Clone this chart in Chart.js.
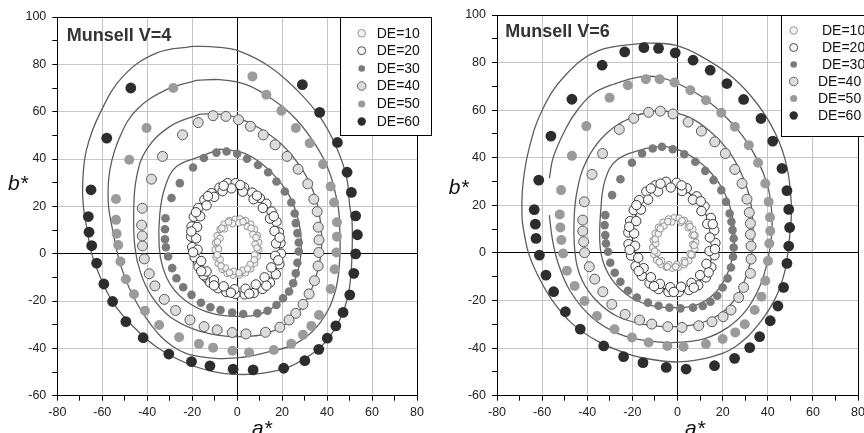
<!DOCTYPE html>
<html>
<head>
<meta charset="utf-8">
<script src="https://cdn.jsdelivr.net/npm/chart.js@4.4.1/dist/chart.umd.min.js"></script>
<style>
  body { margin: 0; background: #fff; width: 864px; height: 433px; overflow: hidden; position: relative; }
  canvas { position: absolute; top: 0; }
</style>
</head>
<body>
<canvas id="v4" width="432" height="433" style="left:0"></canvas>
<canvas id="v6" width="432" height="433" style="left:432px"></canvas>
<script>
// series names (legend)
const seriesLabels = ['DE=10', 'DE=20', 'DE=30', 'DE=40', 'DE=50', 'DE=60'];

// ---- Munsell V=4 : points [a*, b*] ----
const v4DE10 = [[-1,14.5],[-3.5,14],[-5.8,12.5],[-7.6,10.3],[-8.9,7.6],[-9.6,4.6],[-9.8,1.6],[-9.4,-1.4],[-8.4,-4.2],[-6.7,-6.6],[-4.5,-8.3],[-1.8,-9.1],[1,-9],[3.7,-8.1],[6,-6.4],[7.8,-4],[9,-1.2],[9.6,1.8],[9.6,4.8],[9,7.7],[7.8,10.3],[6,12.5],[3.7,14],[1.3,14.7],
  [-2,12.7],[-5.6,10.5],[-7.6,6.5],[-8.2,2],[-7.5,-2.5],[-5.2,-6],[-1.5,-7.4],[2.5,-7],[5.8,-4.5],[7.7,-0.5],[8,4],[7,8.2],[4.5,11.5],[0.8,13],
  [-3.8,13.4],[-6.8,10.8],[-8.8,5],[-8.9,-0.5],[-7.2,-5.2],[-3.4,-8],[0.8,-8.1],[4.6,-6.4],[7.6,-2.6],[8.8,2.4],[8.4,6.8],[6.2,10.8],[2.6,13.5]];
const v4DE20 = [[-4.3,29.8],[-0.7,29.8],[3.1,28],[6.7,25.8],[10.1,23.5],[13,21.1],[15.3,17.8],[17.5,13.5],[18.6,9],[19.3,4.5],[19.5,0],[18.8,-4.5],[17.2,-8.7],[14.6,-12.2],[11.3,-14.9],[7.4,-16.6],[3.3,-17.2],[-0.8,-17],[-4.8,-16.2],[-8.6,-14.6],[-12,-12.2],[-14.9,-9.1],[-17.2,-5.5],[-18.9,-1.5],[-20,2.8],[-20.5,7.2],[-20.3,11.5],[-19.3,15.6],[-17.3,19.3],[-14.6,22.8],[-11.4,25.6],[-7.9,27.9],
  [-2.5,27.6],[2.5,26.2],[7.3,23],[11.4,19.3],[14.6,14.8],[16.6,9.6],[17.3,4.3],[16.9,-0.9],[15.2,-5.8],[12.2,-10],[8.3,-13],[3.7,-14.8],[-1.2,-15],[-6,-13.8],[-10.3,-11.2],[-13.6,-7.5],[-16,-3.1],[-17.6,1.7],[-18.2,6.5],[-17.8,11.3],[-16.4,15.8],[-13.6,20.4],[-10.2,24],[-6.5,26.4],
  [-6,28.7],[1.4,29],[8.8,24.5],[16.3,15.8],[18.9,6.8],[18.3,-2.8],[13,-13.5],[5.4,-16.9],[-2.8,-16.5],[-10.3,-13.4],[-16,-7.4],[-19.6,0.6],[-20.4,9.4],[-18.3,17.5],[-13,24.3]];
const v4DE30 = [[-9.2,42.7],[-4.7,43.2],[0,42.2],[4.4,40.1],[9.3,37.5],[13.8,34.4],[17.5,30.5],[21.2,26.3],[24.1,21.6],[25.6,17],[26.1,12.9],[26.8,8.7],[27.4,4.7],[27.4,0.9],[26.8,-3.8],[26.1,-8.3],[24.9,-12.5],[23.1,-16],[20.4,-18.8],[17.5,-21.7],[13.5,-24.1],[9,-25.2],[2.7,-25.5],[-2.2,-24.9],[-7.4,-23.8],[-11.9,-22.6],[-16.1,-20.7],[-20.3,-17.4],[-24,-14.2],[-27,-10.4],[-28.9,-6.1],[-30.7,-1.2],[-31.7,2.7],[-32.1,6.1],[-32.1,10.3],[-31.9,15],[-29.2,23.5],[-25.5,29.8],[-19.6,36.4],[-14.8,40.4]];
const v4DE40 = [[-10.7,58.3],[-5,58],[0.6,56.6],[5.9,53.8],[11.6,50.2],[16.9,46],[22.2,41.1],[27.1,35.7],[31.4,29.5],[34.1,23],[35.6,17.8],[36.1,11.2],[36.4,5.8],[36.3,0.5],[36,-5.2],[34.4,-11.4],[32,-17],[29.3,-21.4],[26.1,-25.2],[23.1,-28],[19,-31.1],[12.6,-33.2],[3.9,-33.9],[-2.2,-33.3],[-8.9,-32.2],[-14.7,-30.8],[-21,-28],[-27.4,-24],[-32.4,-19.3],[-36.6,-13.6],[-39.1,-8.5],[-41.3,-2.2],[-42.1,3.3],[-42.2,7.5],[-42.5,12.1],[-42.2,19.2],[-38.1,31.5],[-33.2,41.1],[-24.3,50.2],[-17.3,55.4]];
const v4DE50 = [[6.8,74.9],[13,67.2],[19.7,60.4],[26.1,53.1],[32.3,46.7],[38.2,37.8],[41.6,28.4],[43.1,21.6],[44.4,13.3],[44.4,7.2],[44.1,0.5],[43.4,-6.6],[41.6,-14.9],[36.4,-25.9],[33,-30.5],[29.3,-34.3],[24.1,-38.1],[16.3,-40.7],[5.3,-41.7],[-2.1,-41],[-10.7,-39.7],[-17,-38.1],[-25.8,-35.3],[-34.7,-30.1],[-41,-24.1],[-45.9,-17.1],[-49.5,-10.8],[-51.9,-3.3],[-52.9,3.7],[-53.6,8.4],[-53.9,14.3],[-53.9,23.1],[-48,39.7],[-40.3,53.1],[-28.4,70]];
const v4DE60 = [[29,71.4],[36.7,59.7],[44.6,47],[48.9,34.4],[50.8,25.9],[52.7,16],[53.5,8],[52.7,-0.1],[51.9,-8.3],[50.1,-17.4],[47.1,-24.8],[43.9,-30.5],[40.1,-35.7],[36.3,-40.4],[30.1,-45.2],[20.7,-48.4],[7.1,-49.1],[-1.8,-48.8],[-12.1,-47.4],[-20.3,-45.6],[-30.4,-42.4],[-41.8,-35.5],[-49.5,-28.7],[-55.4,-20.2],[-59.3,-12.8],[-62.5,-4],[-64.7,3.4],[-65.9,9.1],[-66.2,15.7],[-65,27],[-58,48.8],[-47.3,70]];

// ---- Munsell V=4 : fitted curves ----
const v4Fit10 = [[-1,14],[-6,12],[-8.5,7.5],[-9.3,2],[-8.5,-3],[-6,-6.8],[-2,-8.3],[2.5,-8],[6.5,-5.5],[8.5,-1],[8.8,4],[7.5,9],[4.5,12.5],[-1,14]];
const v4Fit20 = [[-4,29],[-11,26.5],[-16,21],[-19,14],[-20.5,6],[-20,-1],[-18,-7.5],[-14,-12.5],[-9,-15.5],[-2,-16.5],[5,-16],[11,-13.5],[16,-9],[18.5,-3],[18.8,4],[18,10],[16,16],[12.5,21.5],[7,26],[1,29],[-4,29]];
const v4Fit30 = [[-7.7,44.2],[-16.6,41],[-27,36.8],[-32,28.4],[-34.4,17],[-34.7,3],[-33,-6],[-29,-14],[-22,-20.5],[-12,-25],[0,-26.5],[10,-25.5],[19,-20.5],[25,-12.5],[28,-3],[28.5,6],[27,15],[23.5,24],[18,31.5],[11,38],[3,42.5],[-7.7,44.2]];
const v4Fit40 = [[-16.6,59],[-30,53.7],[-40.3,44],[-44.7,32.6],[-46,18.5],[-45.5,3],[-43,-8],[-38,-18],[-30,-26.5],[-19,-32],[-8,-34.5],[2,-35],[12,-34],[22,-29.5],[30,-21],[35,-10],[37.5,2],[37,14],[34,26],[28,37],[20,46],[10,53],[0,57.5],[-8,59],[-16.6,59]];
const v4Fit50 = [[-18.1,73.2],[-31.4,69.3],[-44.7,60.8],[-52.1,49.5],[-56.6,35.4],[-57.3,21.4],[-55.1,8.7],[-52.1,-4],[-46.9,-16.7],[-38.8,-29.4],[-28.4,-39.3],[-16.6,-43.5],[0,-44],[14,-41.5],[26.4,-37.8],[36.7,-29.4],[43.4,-16.7],[45.6,-2.6],[45.6,11.5],[44.9,19.9],[41.2,34],[35.3,45.3],[26.4,56.6],[16,65],[4.1,71.4],[-7.7,73.5],[-18.1,73.2]];
const v4Fit60 = [[-20,87.6],[-36,84.7],[-50.7,75],[-61,59.4],[-67,44],[-68.7,30],[-68.4,20],[-66.7,10],[-64.7,0],[-61,-9.6],[-55,-21],[-46,-31],[-36,-39.3],[-22.5,-46.3],[-10.7,-49.8],[0,-51],[11.6,-50.5],[23.4,-47.7],[33.8,-42],[41.2,-35],[47,-25],[50,-14],[51.1,0],[51.1,14],[50.1,20],[48.6,32.6],[44,45.3],[36.7,58],[26.4,69.3],[14.5,79],[1.2,85.5],[-9.2,87.3],[-20,87.6]];

// ---- Munsell V=6 : points [a*, b*] ----
const v6DE10 = [[-1.5,14.8],[-4,14.3],[-6.4,12.9],[-8.4,10.8],[-9.9,8.2],[-10.8,5.3],[-11,2.3],[-10.5,-0.6],[-9.3,-3],[-7.4,-4.9],[-5,-6],[-2.3,-6.4],[0.4,-6],[2.9,-5],[5,-3.3],[6.6,-1],[7.7,1.7],[8.1,4.5],[7.8,7.3],[6.8,9.9],[5.1,12.1],[3,13.7],[0.7,14.6],
  [-2.5,13],[-6,11.3],[-8.5,8],[-9.6,4],[-9,0],[-7,-3.3],[-3.8,-4.9],[-0.3,-4.9],[3,-3.2],[5.5,-0.3],[6.7,3.5],[6.5,7.4],[4.7,10.6],[1.5,12.8],
  [-4.3,13.2],[-7.6,10.2],[-9.9,5.8],[-10.1,0.8],[-8.1,-3.8],[-4.5,-5.8],[-0.8,-5.8],[3.3,-4],[6.1,-0.7],[7.4,3.2],[7.3,7.5],[5.5,11.1],[2,13.5]];
const v6DE20 = [[-5.1,29.9],[-0.4,29.5],[4.1,27.2],[8.5,23.8],[12,19.6],[14.8,14.7],[16.3,9.5],[16.8,4.2],[16.4,-1],[15,-6],[12.6,-10.3],[9.2,-13.6],[5.1,-15.6],[0.6,-16.4],[-4,-16.4],[-8.4,-15.2],[-12.4,-12.8],[-15.8,-9.6],[-18.6,-5.6],[-20.6,-1.1],[-21.7,3.7],[-21.8,8.6],[-21,13.4],[-19.4,18],[-17,22.2],[-13.8,25.8],[-9.8,28.4],
  [-3,27.5],[2,26],[6.8,22.4],[10.6,17.6],[13.2,12.2],[14.3,6.5],[14.2,0.8],[12.8,-4.6],[10,-9.3],[6.2,-12.6],[1.6,-14.2],[-3.2,-14.4],[-7.8,-13],[-11.8,-10.2],[-15,-6.4],[-17.4,-2],[-18.8,3],[-19.2,8.2],[-18.3,13.4],[-16.2,18.2],[-13,22.4],[-8.6,25.8],
  [-7.5,29.1],[1.8,28.4],[10.3,21.7],[15.6,12.1],[16.6,1.6],[13.8,-8.2],[7.2,-14.6],[-1.7,-16.4],[-10.4,-14],[-17.2,-7.6],[-21.2,1.3],[-21.4,11],[-18.2,20.1],[-11.8,27.1]];
const v6DE30 = [[-15.7,41.8],[-11,43.9],[-6.9,44.6],[-2.1,43.6],[3,41.5],[7.9,38.3],[12.3,34.5],[16,30.6],[19.4,26.4],[21.5,21.5],[23.1,16.6],[23.9,13.1],[24.4,9.6],[24.9,6.1],[24.9,2.3],[24.6,-1.6],[23.7,-6.1],[22.2,-10.7],[20,-14.5],[17.6,-18],[14.6,-20.5],[11.2,-22.3],[6.9,-23],[1.3,-23.3],[-3.6,-23],[-8.4,-22.2],[-13.1,-20.9],[-18,-18.7],[-22,-15.9],[-25.3,-12.1],[-27.8,-8.3],[-29.8,-4.1],[-30.8,0.5],[-31.7,4],[-32,7.5],[-32.3,11.7],[-32,15.9],[-29,24.3],[-25.3,31],[-20.2,37.9]];
const v6DE40 = [[-12.8,59.1],[-7.6,59.6],[-2,58.4],[4.7,55],[10.6,51.2],[16.5,46.7],[21.2,41.8],[25.4,35.1],[28.6,29.2],[30.8,22.6],[31.8,17],[32.3,12.4],[32.3,7.8],[32.6,2.9],[32.6,-2.6],[32.3,-8.6],[29.3,-14.5],[27.1,-18.7],[23.7,-24],[20.2,-26.8],[15.3,-28.9],[9.4,-30.6],[2,-31.3],[-4.3,-31],[-11.4,-29.9],[-16.8,-28.2],[-23.2,-25.8],[-29.1,-21.6],[-33.1,-16.3],[-36.7,-11],[-39.1,-5.8],[-41.2,0.1],[-41.6,4.7],[-42,9.2],[-42,13.8],[-41.3,21.5],[-37.9,33],[-33.2,41.8],[-25.8,51.9],[-19.4,56.6]];
const v6DE50 = [[-30.1,65.2],[-22,70.5],[-14,73],[-7.9,73],[-1.3,71.6],[5.7,68.4],[12.6,64.2],[19.4,58.9],[25.4,53],[31.6,45.3],[35.7,37.9],[38.9,29.2],[40.4,21.5],[41,15],[41.1,9.2],[40.7,4],[40.1,-3.4],[38.9,-11.7],[37.2,-18.4],[34.2,-24],[29.8,-30],[25.6,-33.4],[20,-36.2],[12.6,-38.3],[2.7,-39.4],[-4.5,-39.1],[-12.8,-37.6],[-20.2,-35.5],[-27.9,-32.1],[-35.7,-26.5],[-41.2,-20.2],[-45.6,-13.9],[-49,-7.5],[-50.7,-0.2],[-51.5,5.4],[-51.9,10.7],[-52.2,16.2],[-51.6,26.4],[-46.8,40.8],[-40.4,53.3]];
const v6DE60 = [[-23.4,84.5],[-14.9,86.3],[-8.4,86],[-1,84.1],[6.9,81],[14.5,76.8],[21.9,71.2],[29.3,64.5],[37,56.5],[42.2,47],[46.3,35.5],[48.5,26.2],[49.3,18.3],[49.7,10.7],[49.3,2.9],[48.5,-4.4],[47,-14.5],[44.5,-22.3],[41.1,-28.5],[36.4,-35.2],[32,-39.8],[25.3,-44.3],[16.4,-47.4],[3.8,-48.8],[-5,-48.1],[-15.3,-46.1],[-23.9,-43.6],[-32.7,-39.1],[-43.1,-32],[-49.7,-24.7],[-54.9,-16.3],[-58.3,-9.3],[-61.2,-0.9],[-62.7,6.1],[-63,12.1],[-63.5,18.2],[-61.5,30.6],[-56.1,49.1],[-46.8,64.6],[-33.4,78.9]];

// ---- Munsell V=6 : fitted curves ----
const v6Fit10 = [[-1.5,14],[-6,12],[-9,7.5],[-9.8,3],[-8.8,-1.5],[-6.2,-4.8],[-2.3,-6.3],[1.8,-5.8],[5.2,-3.2],[7.3,0.6],[7.8,5],[6.5,9.5],[3.5,12.8],[-1.5,14]];
const v6Fit20 = [[-4,28.6],[1.5,27.5],[6.5,24],[10.8,19],[14,13],[15.5,6.5],[15.5,0],[13.8,-6],[10.8,-11],[6.5,-14.3],[1,-15.7],[-4.5,-15.5],[-9.8,-13],[-14.2,-9],[-17.5,-3.8],[-19.5,2.5],[-20,8.5],[-19,14.5],[-16.5,20],[-13,24.5],[-8.5,27.6],[-4,28.6]];
const v6Fit30 = [[-6.9,45],[-16.6,43.2],[-27,39],[-32.1,30.6],[-34,18],[-34.4,4],[-32.5,-5],[-28,-12.5],[-21,-18.5],[-12,-22],[-2,-23],[8,-22],[16,-17.5],[21.5,-10],[24.5,-1],[25.3,8],[24,17],[20.5,26],[15,33.5],[8,39.5],[0,43.5],[-6.9,45]];
const v6Fit40 = [[-8.3,60],[-19.6,57.2],[-31.4,50.3],[-40.2,39],[-44.7,25],[-45.9,11],[-45,-3],[-42,-12],[-36,-20],[-27,-26.5],[-15,-30],[-3,-31],[8,-30],[17.5,-26.5],[25,-20],[30,-11],[32.8,-1],[33.5,9],[32.3,22],[28.5,33],[22.5,43],[14.5,51],[4,57.5],[-8.3,60]];
const v6Fit50 = [[-56.8,15.9],[-55.5,6],[-53,-4],[-47.6,-16],[-38,-27],[-26,-34],[-13,-37],[0,-37.6],[12,-36],[22,-31.5],[30.5,-24],[36.5,-14],[40,-3],[41.8,8],[41.7,18],[40,28],[35.5,39],[29,49],[20.5,58],[11,65.5],[0.5,71],[-8,73.8],[-16.6,74],[-28,71],[-37.3,67],[-44,60.5],[-49.1,53],[-55,40.4],[-56.8,31.3]];
const v6Fit60 = [[-14.3,88.3],[-35,85],[-49.7,74.7],[-60,60],[-66,43],[-68.6,28],[-68.9,15],[-68.2,9.6],[-66,-0.2],[-61.6,-10],[-55.6,-19.8],[-46.8,-29.6],[-35,-37.3],[-21.7,-42.5],[-9.8,-45],[0.5,-45.8],[13.8,-44],[25.6,-39.4],[35.9,-30],[43.4,-19],[47.5,-8],[49,1],[50,10],[50.5,19.4],[48.5,36.2],[43.4,50.2],[35.2,62.8],[24.1,74],[10.9,82.4],[-1,87.3],[-14.3,88.3]];

// marker look per series
const markers = [
  { r: 3.3, bg: '#f2f2f2', border: '#8a8a8a', bw: 0.9, lr: 3.8 },
  { r: 4.7, bg: '#f7f7f7', border: '#3a3a3a', bw: 1, lr: 4 },
  { r: 4.3, bg: '#7a7a7a', border: '#7a7a7a', bw: 0, lr: 3.3 },
  { r: 5, bg: '#dcdcdc', border: '#5a5a5a', bw: 1, lr: 4.3 },
  { r: 5, bg: '#9b9b9b', border: '#9b9b9b', bw: 0, lr: 3.6 },
  { r: 5.4, bg: '#2d2d2d', border: '#2d2d2d', bw: 0, lr: 4.2 }
];

const FONT = '"Liberation Sans", Arial, sans-serif';
const xy = arr => arr.map(p => ({ x: p[0], y: p[1] }));

// frame, title, axis titles and legend drawn on top
const panelDecor = {
  id: 'panelDecor',
  afterDraw(chart, args, o) {
    const { ctx, chartArea: a } = chart;
    ctx.save();
    ctx.strokeStyle = '#000';
    ctx.lineWidth = 1;
    ctx.beginPath();
    ctx.moveTo(a.left, Math.round(a.top) + 0.5);
    ctx.lineTo(Math.round(a.right) + 0.5, Math.round(a.top) + 0.5);
    ctx.lineTo(Math.round(a.right) + 0.5, a.bottom);
    ctx.stroke();

    // legend box
    const L = o.legend;
    ctx.fillStyle = '#fff';
    ctx.fillRect(L.left, L.top, L.right - L.left, L.bottom - L.top);
    ctx.strokeRect(L.left + 0.5, L.top + 0.5, L.right - L.left, L.bottom - L.top);
    ctx.font = '14px ' + FONT;
    ctx.textBaseline = 'middle';
    ctx.textAlign = 'left';
    seriesLabels.forEach((lab, i) => {
      const m = markers[i];
      ctx.beginPath();
      ctx.arc(L.symX, L.rows[i], m.lr, 0, Math.PI * 2);
      ctx.fillStyle = m.bg;
      ctx.fill();
      if (m.bw) { ctx.lineWidth = 0.9; ctx.strokeStyle = m.border; ctx.stroke(); }
      ctx.fillStyle = '#111';
      ctx.fillText(lab, L.textX[i], L.rows[i] + 0.5);
    });

    // panel title
    ctx.font = 'bold 18px ' + FONT;
    ctx.fillStyle = '#333';
    ctx.textBaseline = 'alphabetic';
    ctx.fillText(o.title, o.titleX, o.titleY);

    // axis titles
    ctx.font = 'italic 21px ' + FONT;
    ctx.fillStyle = '#111';
    ctx.fillText('b*', o.bX, o.bY);
    ctx.fillText('a*', o.aX, o.aY);
    ctx.restore();
  }
};

function axis(fitSize, isX) {
  return {
    type: 'linear',
    min: isX ? -80 : -60,
    max: isX ? 80 : 100,
    ticks: {
      stepSize: 10,
      autoSkip: false,
      maxRotation: 0,
      color: '#222',
      font: { family: FONT, size: 12.5 },
      padding: isX ? 4 : 6,
      callback: v => (v % 20 === 0 ? String(v) : '')
    },
    grid: {
      color: c => {
        const v = c.tick ? c.tick.value : 1;
        if (v % 20 !== 0) return 'rgba(0,0,0,0)';
        return v === 0 ? '#000' : '#c6c6c6';
      },
      lineWidth: 1,
      drawTicks: true,
      tickLength: 5,
      tickColor: '#000',
      tickWidth: 1
    },
    border: { color: '#000', width: 1 },
    afterFit: s => {
      if (isX) { s.height = fitSize; } else { s.width = fitSize; }
      s.paddingLeft = 0; s.paddingRight = 0; s.paddingTop = 0; s.paddingBottom = 0;
    }
  };
}

function makePanel(id, pts, fits, cfg) {
  const datasets = [];
  pts.forEach((p, i) => {
    const m = markers[i];
    datasets.push({
      label: seriesLabels[i],
      data: xy(p),
      showLine: false,
      order: 1,
      pointRadius: m.r,
      pointBackgroundColor: m.bg,
      pointBorderColor: m.border,
      pointBorderWidth: m.bw
    });
  });
  fits.forEach((f, i) => {
    datasets.push({
      label: 'fit ' + seriesLabels[i],
      data: xy(f),
      showLine: true,
      order: 2,
      pointRadius: 0,
      borderColor: cfg.fitColors[i],
      borderWidth: cfg.fitWidths[i],
      tension: 0.4,
      fill: false
    });
  });

  new Chart(document.getElementById(id), {
    type: 'scatter',
    data: { datasets },
    options: {
      responsive: false,
      animation: false,
      events: [],
      layout: { padding: cfg.padding },
      scales: {
        x: axis(cfg.xHeight, true),
        y: axis(cfg.yWidth, false)
      },
      plugins: {
        legend: { display: false },
        tooltip: { enabled: false },
        panelDecor: cfg.decor
      }
    },
    plugins: [panelDecor]
  });
}

makePanel('v4',
  [v4DE10, v4DE20, v4DE30, v4DE40, v4DE50, v4DE60],
  [v4Fit10, v4Fit20, v4Fit30, v4Fit40, v4Fit50, v4Fit60],
  {
    padding: { left: 0, top: 17, right: 15, bottom: 0 },
    yWidth: 57.3, xHeight: 37.3,
    fitColors: ['#6a6a6a', '#555', '#5e5e5e', '#5e5e5e', '#5e5e5e', '#5e5e5e'],
    fitWidths: [1.2, 1.2, 1.3, 1.3, 1.3, 1.3],
    decor: {
      title: 'Munsell V=4', titleX: 66.7, titleY: 40.7,
      bX: 8, bY: 190, aX: 252, aY: 435,
      legend: { left: 340, top: 17, right: 431, bottom: 135,
        symX: 361.7, textX: [376.7, 376.7, 376.7, 376.7, 376.7, 376.7],
        rows: [33.3, 50.7, 68.5, 86, 104, 121.5] }
    }
  });

makePanel('v6',
  [v6DE10, v6DE20, v6DE30, v6DE40, v6DE50, v6DE60],
  [v6Fit10, v6Fit20, v6Fit30, v6Fit40, v6Fit50, v6Fit60],
  {
    padding: { left: 0, top: 15, right: 6, bottom: 0 },
    yWidth: 65, xHeight: 37.3,
    fitColors: ['#2a2a2a', '#3a3a3a', '#5e5e5e', '#5e5e5e', '#5e5e5e', '#5e5e5e'],
    fitWidths: [1.6, 1.3, 1.3, 1.3, 1.3, 1.3],
    decor: {
      title: 'Munsell V=6', titleX: 73.3, titleY: 37.3,
      bX: 16.7, bY: 193.5, aX: 253, aY: 435,
      legend: { left: 349, top: 15, right: 445, bottom: 136,
        symX: 361.7, textX: [390, 390, 390, 386, 386, 386],
        rows: [30.5, 47.5, 64.5, 81.5, 98.5, 115.5] }
    }
  });
</script>
</body>
</html>
